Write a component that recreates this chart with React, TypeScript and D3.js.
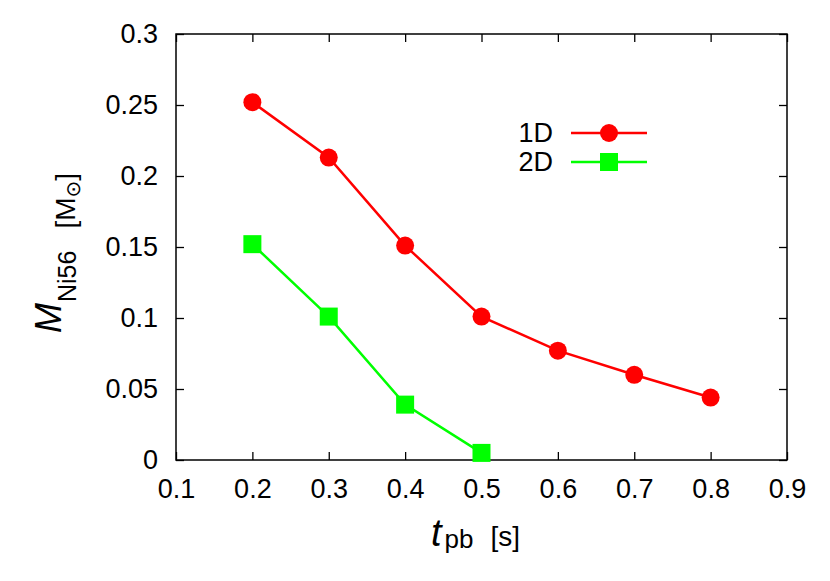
import React, { useEffect, useRef } from 'react';
import * as d3 from 'd3';

const tpb = [0.2, 0.3, 0.4, 0.5, 0.6, 0.7, 0.8];
const mass1D = [0.252, 0.213, 0.151, 0.101, 0.077, 0.060, 0.044];
const tpb2D = [0.2, 0.3, 0.4, 0.5];
const mass2D = [0.152, 0.101, 0.039, 0.005];

const xTicks = [0.1, 0.2, 0.3, 0.4, 0.5, 0.6, 0.7, 0.8, 0.9];
const yTicks = [0, 0.05, 0.1, 0.15, 0.2, 0.25, 0.3];
const seriesNames = ['1D', '2D'];

const W = 830;
const H = 581;
const FONT = '"Liberation Sans", Arial, Helvetica, sans-serif';
const FS = 27;

const App = () => {
  const ref = useRef<SVGSVGElement>(null);

  useEffect(() => {
    const margin = { top: 34, right: 43, bottom: 121, left: 176 };
    const width = W - margin.left - margin.right;
    const height = H - margin.top - margin.bottom;

    const svg = d3.select(ref.current);
    svg.selectAll('*').remove();

    const g = svg.append('g').attr('transform', `translate(${margin.left},${margin.top})`);

    const x = d3.scaleLinear().domain([0.1, 0.9]).range([0, width]);
    const y = d3.scaleLinear().domain([0, 0.3]).range([height, 0]);

    // axes, ticks pointing inwards and mirrored
    const fmt = (d) => (d === 0 ? '0' : String(+d.toFixed(2)));
    const styleAxis = (sel) => {
      sel.select('.domain').remove();
      sel.selectAll('line').attr('stroke', '#000').attr('stroke-width', 1.3);
      sel.selectAll('text').attr('font-family', FONT).attr('font-size', FS).attr('fill', '#000');
    };
    g.append('g')
      .attr('transform', `translate(0,${height})`)
      .call(d3.axisBottom(x).tickValues(xTicks).tickFormat(fmt).tickSizeInner(-8).tickSizeOuter(0).tickPadding(19))
      .call(styleAxis);
    g.append('g')
      .call(d3.axisLeft(y).tickValues(yTicks).tickFormat(fmt).tickSizeInner(-8).tickSizeOuter(0).tickPadding(18))
      .call(styleAxis);
    g.append('g')
      .call(d3.axisTop(x).tickValues(xTicks).tickFormat(() => '').tickSizeInner(-8).tickSizeOuter(0))
      .call(styleAxis);
    g.append('g')
      .attr('transform', `translate(${width},0)`)
      .call(d3.axisRight(y).tickValues(yTicks).tickFormat(() => '').tickSizeInner(-8).tickSizeOuter(0))
      .call(styleAxis);

    g.append('rect')
      .attr('width', width)
      .attr('height', height)
      .attr('fill', 'none')
      .attr('stroke', '#000')
      .attr('stroke-width', 1.5);

    const line = d3.line<[number, number]>().x((d) => x(d[0])).y((d) => y(d[1]));

    const d1 = tpb.map((t, i) => [t, mass1D[i]] as [number, number]);
    const d2 = tpb2D.map((t, i) => [t, mass2D[i]] as [number, number]);

    g.append('path').datum(d1).attr('d', line).attr('fill', 'none').attr('stroke', '#ff0000').attr('stroke-width', 2.5);
    g.append('path').datum(d2).attr('d', line).attr('fill', 'none').attr('stroke', '#00ff00').attr('stroke-width', 2.5);

    g.selectAll('circle.p1')
      .data(d1)
      .enter()
      .append('circle')
      .attr('cx', (d) => x(d[0]))
      .attr('cy', (d) => y(d[1]))
      .attr('r', 9)
      .attr('fill', '#ff0000');

    const sq = 18;
    g.selectAll('rect.p2')
      .data(d2)
      .enter()
      .append('rect')
      .attr('x', (d) => x(d[0]) - sq / 2)
      .attr('y', (d) => y(d[1]) - sq / 2)
      .attr('width', sq)
      .attr('height', sq)
      .attr('fill', '#00ff00');

    // legend
    const legend = svg.append('g').attr('transform', 'translate(553,133)');
    const colors = ['#ff0000', '#00ff00'];
    seriesNames.forEach((name, i) => {
      const row = legend.append('g').attr('transform', `translate(0,${i * 29})`);
      row.append('text')
        .attr('text-anchor', 'end')
        .attr('dy', '0.35em')
        .attr('font-family', FONT)
        .attr('font-size', FS)
        .text(name);
      row.append('line')
        .attr('x1', 18).attr('x2', 94)
        .attr('stroke', colors[i]).attr('stroke-width', 2.5);
      if (i === 0) row.append('circle').attr('cx', 56).attr('r', 9).attr('fill', colors[i]);
      else row.append('rect').attr('x', 56 - sq / 2).attr('y', -sq / 2).attr('width', sq).attr('height', sq).attr('fill', colors[i]);
    });

    // x label
    const xl = svg.append('text').attr('font-family', FONT).attr('fill', '#000').attr('x', 431).attr('y', 546);
    xl.append('tspan').attr('font-style', 'italic').attr('font-size', 38).text('t');
    xl.append('tspan').attr('font-size', 26).attr('dx', 3).attr('dy', 2).text('pb');
    xl.append('tspan').attr('font-size', 28).attr('dx', 17).attr('dy', -2).text('[s]');

    // y label
    const yl = svg.append('text')
      .attr('font-family', FONT)
      .attr('fill', '#000')
      .attr('transform', 'translate(61,333) rotate(-90)');
    yl.append('tspan').attr('font-style', 'italic').attr('font-size', 36).text('M');
    yl.append('tspan').attr('font-size', 25).attr('dx', 1).attr('dy', 15).text('Ni56');
    yl.append('tspan').attr('font-size', 28).attr('dx', 22).attr('dy', -1).text('[M');
    yl.append('tspan').attr('font-family', '"DejaVu Sans", sans-serif').attr('font-size', 20).attr('dy', 5).text('\u2299');
    yl.append('tspan').attr('font-size', 28).attr('dy', -5).text(']');
  }, []);

  return (
    <svg
      ref={ref}
      width={W}
      height={H}
      style={{ position: 'absolute', left: 0, top: 0, background: '#fff' }}
    />
  );
};

export default App;
